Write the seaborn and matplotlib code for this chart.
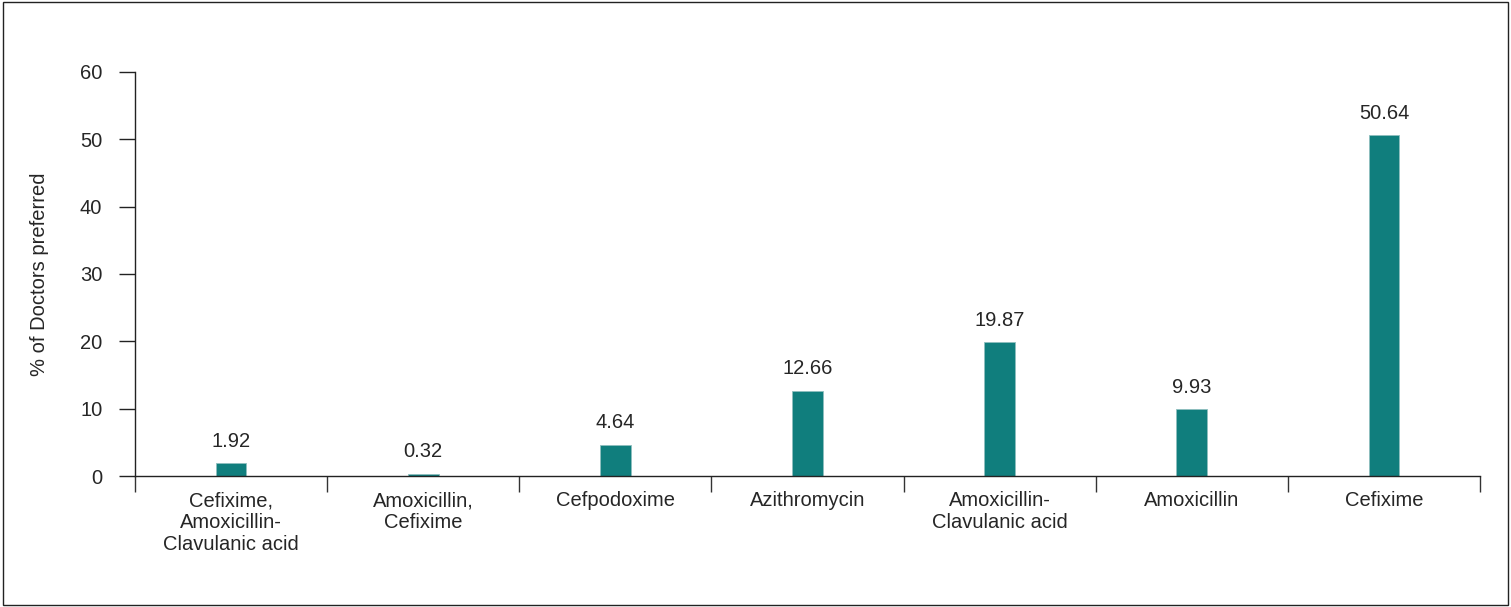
import numpy as np
import pandas as pd
import matplotlib
matplotlib.use("Agg")
import matplotlib.pyplot as plt
import seaborn as sns
from matplotlib.patches import Rectangle

# Data
categories = ["Cefixime,\nAmoxicillin-\nClavulanic acid", "Amoxicillin,\nCefixime", "Cefpodoxime",
              "Azithromycin", "Amoxicillin-\nClavulanic acid", "Amoxicillin", "Cefixime"]
values = [1.92, 0.32, 4.64, 12.66, 19.87, 9.93, 50.64]
y_ticks = [0, 10, 20, 30, 40, 50, 60]

df = pd.DataFrame({"drug": categories, "pct": values})

sns.set_style("white")
plt.rcParams['font.family'] = ['Liberation Sans', 'DejaVu Sans']

fig = plt.figure(figsize=(15.11, 6.07), dpi=100)
ax = fig.add_axes([0.0893, 0.2158, 0.8902, 0.6656])

sns.barplot(data=df, x="drug", y="pct", color="#107e7d", width=0.16, saturation=1,
            edgecolor="#8fbfbf", linewidth=0.6, ax=ax)

for c in ax.containers:
    ax.bar_label(c, labels=[f"{v:.2f}" for v in values], padding=9, fontsize=14.5)

ax.set_xlim(-0.5, len(categories) - 0.5)
ax.set_ylim(0, 60)
ax.set_yticks(y_ticks)
ax.set_xlabel("")
ax.set_ylabel("% of Doctors preferred", fontsize=14.5, labelpad=22)

# category labels centered, tick marks at category boundaries
ax.tick_params(axis="x", which="major", length=0, pad=11, labelsize=14.5)
ax.set_xticks(np.arange(-0.5, len(categories)), minor=True)
ax.tick_params(axis="x", which="minor", bottom=True, length=11.5, width=1, color="#333333", direction="out")
ax.tick_params(axis="y", length=11.5, width=1, color="#222222", direction="out", labelsize=14.5, pad=12, left=True)

for s in ["top", "right"]:
    ax.spines[s].set_visible(False)
for s in ["left", "bottom"]:
    ax.spines[s].set_color("#222222")
    ax.spines[s].set_linewidth(1)

# outer frame
fig.patches.append(Rectangle((0.002, 0.004), 0.996, 0.992, transform=fig.transFigure,
                             fill=False, edgecolor="#222222", linewidth=1))

fig.savefig("out.png", dpi=100)
